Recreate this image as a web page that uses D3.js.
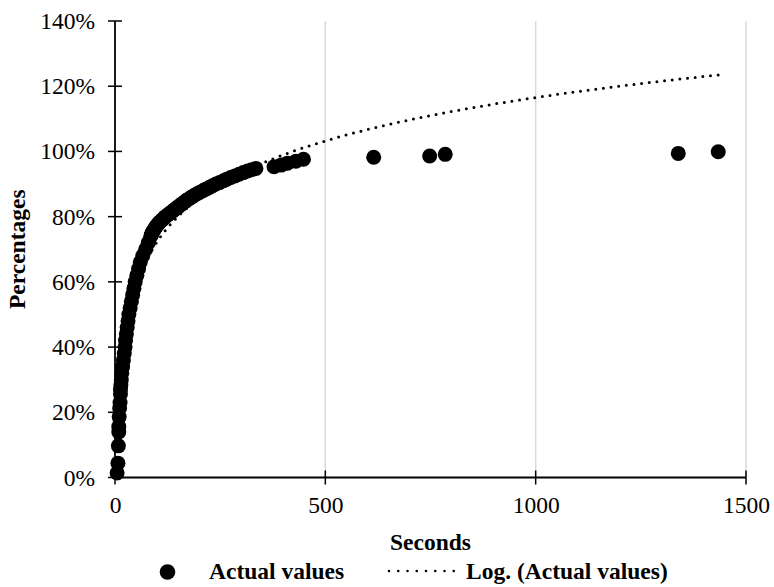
<!DOCTYPE html>
<html>
<head>
<meta charset="utf-8">
<script src="https://cdn.jsdelivr.net/npm/d3@7"></script>
<style>
  html, body { margin: 0; padding: 0; background: #fff; }
  svg text { font-family: "Liberation Serif", "Times New Roman", serif; fill: #000; }
</style>
</head>
<body>
<svg id="chart" width="774" height="587"></svg>
<script>
// ---- data ----
const seconds = [5, 7, 8, 9, 9, 10, 11, 12, 13, 13, 14, 15, 16, 18, 20, 22, 24, 25, 27, 29, 31, 33, 36, 39, 42, 45, 48, 52, 56, 60, 66, 73, 79,
  85, 87, 88, 90, 93, 95, 98, 101, 104, 108, 112, 116, 120, 125, 130, 135, 140, 145, 150, 155, 160, 165, 170, 176, 182, 188, 195, 202, 210, 217, 225, 232, 240, 249, 258, 266, 275, 285, 295, 305, 315, 325, 335,
  378, 395, 410, 430, 448, 615, 748, 785, 1339, 1434];
const percentages = [1.4, 4.4, 9.7, 14.0, 15.6, 18.6, 21.3, 23.0, 25.6, 27.0, 28.4, 30.0, 32.0, 34.0, 36.0, 38.0, 40.0, 42.0, 44.0, 46.0, 48.0, 50.0, 52.0, 54.0, 56.0, 58.0, 60.0, 62.0, 64.0, 66.0, 68.0, 70.0, 72.0,
  74.0, 74.5, 75.0, 75.5, 76.0, 76.5, 77.0, 77.5, 78.0, 78.5, 79.0, 79.5, 80.0, 80.5, 81.0, 81.5, 82.0, 82.5, 83.0, 83.5, 84.0, 84.5, 85.0, 85.5, 86.0, 86.5, 87.0, 87.5, 88.0, 88.5, 89.0, 89.5, 90.0, 90.5, 91.0, 91.5, 92.0, 92.5, 93.0, 93.5, 94.0, 94.4, 94.8,
  95.3, 95.8, 96.4, 97.0, 97.6, 98.2, 98.6, 99.1, 99.4, 99.9];
// logarithmic trendline: p = trendA * ln(s) + trendB
const trendA = 19.2;
const trendB = -16.1;
const xTicks = [0, 500, 1000, 1500];
const yTicks = [0, 20, 40, 60, 80, 100, 120, 140];
const seriesName = "Actual values";
const trendName = "Log. (Actual values)";

// ---- layout ----
const FS = 23.5;
const svg = d3.select("#chart");
const mLeft = 115, mRight = 746, mTop = 21, mBottom = 477.5;
const x = d3.scaleLinear().domain([0, 1500]).range([mLeft, mRight]);
const y = d3.scaleLinear().domain([0, 140]).range([mBottom, mTop]);

const points = seconds.map((s, i) => ({ s, p: percentages[i] }));

// gridlines (vertical)
svg.append("g").selectAll("line").data(xTicks.filter(t => t > 0)).join("line")
  .attr("x1", d => x(d)).attr("x2", d => x(d))
  .attr("y1", mTop).attr("y2", mBottom)
  .attr("stroke", "#d9d9d9").attr("stroke-width", 1.5);

// clip
svg.append("clipPath").attr("id", "plotclip").append("rect")
  .attr("x", mLeft).attr("y", mTop).attr("width", mRight - mLeft).attr("height", mBottom - mTop);

// axes
const xAxis = d3.axisBottom(x).tickValues(xTicks).tickSize(0).tickPadding(19).tickFormat(d3.format("d"));
const gx = svg.append("g").attr("transform", `translate(0,${mBottom})`).call(xAxis);
gx.select(".domain").remove();
gx.selectAll("text").attr("font-size", FS).attr("font-family", "Liberation Serif");

const yAxis = d3.axisLeft(y).tickValues(yTicks).tickSize(0).tickPadding(20).tickFormat(d => d + "%");
const gy = svg.append("g").attr("transform", `translate(${mLeft},0)`).call(yAxis);
gy.select(".domain").remove();
gy.selectAll("text").attr("font-size", FS).attr("font-family", "Liberation Serif");

// cross tick marks
svg.append("g").selectAll("line").data(yTicks).join("line")
  .attr("x1", mLeft - 7).attr("x2", mLeft + 7)
  .attr("y1", d => y(d)).attr("y2", d => y(d))
  .attr("stroke", "#000").attr("stroke-width", 1.5);
svg.append("g").selectAll("line").data(xTicks).join("line")
  .attr("x1", d => x(d)).attr("x2", d => x(d))
  .attr("y1", mBottom - 7).attr("y2", mBottom + 7)
  .attr("stroke", "#000").attr("stroke-width", 1.5);

// axis lines
svg.append("line").attr("x1", mLeft).attr("x2", mLeft).attr("y1", mTop).attr("y2", mBottom)
  .attr("stroke", "#000").attr("stroke-width", 1.8);
svg.append("line").attr("x1", mLeft).attr("x2", mRight).attr("y1", mBottom).attr("y2", mBottom)
  .attr("stroke", "#000").attr("stroke-width", 1.8);

// points
svg.append("g").selectAll("circle").data(points).join("circle")
  .attr("cx", d => x(d.s)).attr("cy", d => y(d.p)).attr("r", 7.5)
  .attr("fill", "#000");

// trendline over the data's x range
const sMin = d3.min(seconds), sMax = d3.max(seconds);
const trend = d3.range(0, 401).map(i => {
  const s = sMin * Math.pow(sMax / sMin, i / 400);
  return { s, p: trendA * Math.log(s) + trendB };
});
svg.append("path").datum(trend)
  .attr("clip-path", "url(#plotclip)")
  .attr("d", d3.line().x(d => x(d.s)).y(d => y(d.p)))
  .attr("fill", "none").attr("stroke", "#000").attr("stroke-width", 3)
  .attr("stroke-linecap", "round").attr("stroke-dasharray", "0,7.7");

// axis titles
svg.append("text").attr("x", (mLeft + mRight) / 2).attr("y", 550)
  .attr("text-anchor", "middle").attr("font-size", FS).attr("font-weight", "bold").text("Seconds");
svg.append("text").attr("transform", `translate(25,${(mTop + mBottom) / 2}) rotate(-90)`)
  .attr("text-anchor", "middle").attr("font-size", FS).attr("font-weight", "bold").text("Percentages");

// legend
const lg = svg.append("g");
lg.append("circle").attr("cx", 167.5).attr("cy", 572).attr("r", 7.8).attr("fill", "#000");
lg.append("text").attr("x", 209).attr("y", 579).attr("font-size", FS).attr("font-weight", "bold").text(seriesName);
lg.append("line").attr("x1", 389).attr("x2", 463).attr("y1", 571).attr("y2", 571)
  .attr("stroke", "#000").attr("stroke-width", 2.6).attr("stroke-linecap", "round").attr("stroke-dasharray", "0,9.25");
lg.append("text").attr("x", 466).attr("y", 579).attr("font-size", FS).attr("font-weight", "bold").text(trendName);
</script>
</body>
</html>
